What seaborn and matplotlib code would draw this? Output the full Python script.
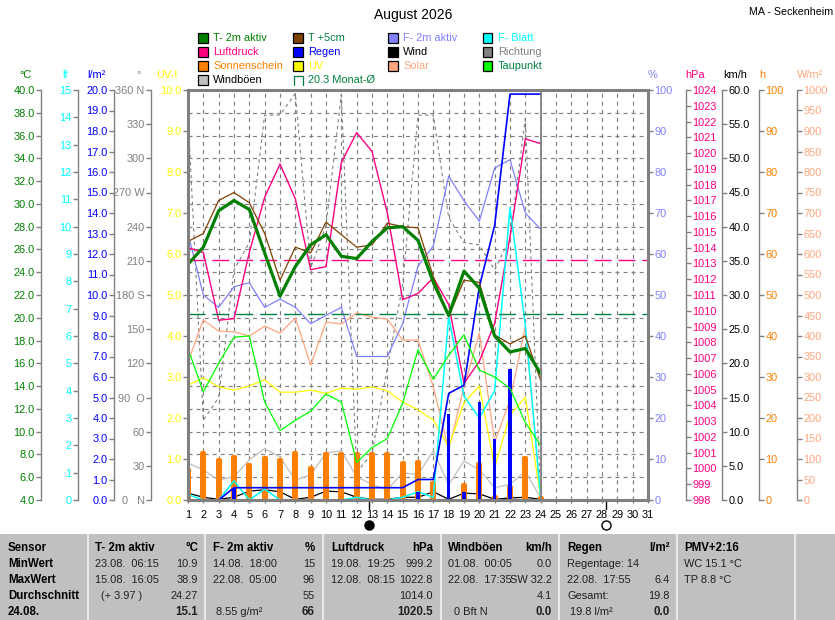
import matplotlib
matplotlib.use('Agg')
import matplotlib.pyplot as plt
import numpy as np
import seaborn as sns
from matplotlib.lines import Line2D
from matplotlib.patches import Rectangle

W, H = 835, 620

days = list(range(1, 25))
month_days = list(range(1, 32))

t_2m = [24.7, 26.2, 29.4, 30.3, 29.5, 25.7, 21.9, 24.5, 26.4, 27.3, 25.4, 25.2,
        26.7, 27.9, 28.0, 26.8, 23.1, 20.2, 24.1, 22.6, 18.4, 17.0, 17.3, 15.1]
t_5cm = [26.7, 27.4, 30.3, 31.0, 30.1, 27.4, 23.3, 26.2, 25.7, 28.4, 27.3, 26.2,
         26.4, 28.3, 28.0, 27.9, 23.6, 20.1, 23.3, 23.1, 18.5, 17.7, 18.4, 14.5]
taupunkt = [17.3, 13.5, 16.0, 18.3, 18.4, 12.6, 10.1, 11.0, 11.8, 13.3, 12.6, 7.3,
            8.6, 9.4, 12.5, 17.2, 14.6, 16.7, 18.5, 15.4, 14.8, 13.8, 10.8, 8.8]
luftdruck = [1014.0, 1013.7, 1009.4, 1009.5, 1013.7, 1017.2, 1019.3, 1017.1, 1012.6, 1012.8,
             1019.4, 1021.3, 1020.1, 1016.2, 1010.7, 1011.1, 1012.1, 1010.4, 1005.4, 1006.8,
             1009.2, 1014.7, 1020.9, 1020.6]
f_2m = [65, 50, 47, 52, 53, 47, 49, 47, 43, 45, 47, 35, 35, 35, 43, 57, 62, 79, 73, 68, 81, 83, 70, 66]
f_blatt = [0.2, 0, 0, 0.7, 0, 0.4, 0, 0, 0, 0, 0, 0.1, 0, 0, 0.1, 0.3, 0.1, 6.7, 3.8, 3.0, 4.0, 10.7, 6.4, 0.1]
regen_sum = [0, 0, 0, 0.6, 0.6, 0.6, 0.6, 0.6, 0.6, 0.6, 0.6, 0.6, 0.6, 0.6, 0.6, 1.0, 1.0, 5.2, 5.6, 10.4,
             13.4, 19.8, 19.8, 19.8]
regen_tag = [0, 0, 0, 0.6, 0, 0, 0, 0, 0, 0, 0, 0, 0, 0, 0, 0.4, 0, 4.2, 0.4, 4.8, 3.0, 6.4, 0, 0]
wind = [1.0, 0.4, 0.1, 0.4, 1.3, 1.5, 1.2, 0.1, 0.4, 1.3, 1.2, 0.4, 0.1, 0.1, 0.4, 0.4, 1.2, 0.1, 1.0, 0.9,
        0.1, 0.3, 0.4, 0.1]
boeen = [5.4, 4.4, 2.9, 3.4, 5.9, 7.5, 6.3, 2.9, 3.7, 6.9, 7.2, 3.4, 2.3, 1.5, 4.0, 3.7, 7.2, 2.2, 5.7, 4.4,
         1.8, 2.3, 4.2, 0.3]
richtung = [338, 70, 90, 202, 226, 338, 338, 357, 204, 241, 356, 24, 41, 116, 189, 338, 338, 248, 226, 224,
            202, 230, 335, 2]
solar = [337, 439, 412, 410, 400, 424, 407, 444, 329, 434, 429, 456, 446, 441, 390, 390, 276, 122, 276, 407,
         141, 244, 422, 5]
uv = [2.8, 2.98, 2.76, 2.68, 2.78, 2.93, 2.63, 2.63, 2.68, 2.6, 2.73, 2.7, 2.76, 2.66, 2.39, 2.2, 1.95, 1.3,
      2.37, 2.78, 0.8, 2.07, 2.51, 0.05]
sonne = [7.3, 11.4, 9.8, 10.5, 8.5, 10.2, 9.8, 11.4, 7.8, 11.2, 11.2, 11.2, 11.2, 11.2, 9.0, 9.3, 4.1, 0, 3.7, 8.8,
         0.7, 3.2, 10.2, 0.5]
t_monat = 20.3
p_mittel = 1013.2
moon_days = [12.8, 28.25]

temp_ticks = list(range(4, 41, 2))
lf_ticks = list(range(0, 16))
rain_ticks = list(range(0, 21))
deg_ticks = list(range(0, 361, 30))
deg_labels = ['0   N', '30', '60', '90  O', '120', '150', '180 S', '210', '240', '270 W', '300', '330', '360 N']
uv_ticks = list(range(0, 11))
pct_ticks = list(range(0, 101, 10))
hpa_ticks = list(range(998, 1025))
kmh_ticks = list(range(0, 61, 5))
h_ticks = list(range(0, 101, 10))
wm_ticks = list(range(0, 1001, 50))

GRAY = '#808080'
GREEN = '#008000'
BROWN = '#804000'
PINK = '#FF0080'
BLUE = '#0000FF'
LILAC = '#8080FF'
PEACH = '#FFA67F'
ORANGE = '#FF8000'
CYAN = '#00FFFF'
YELLOW = '#FFFF00'
LIME = '#00FF00'
SILVER = '#C0C0C0'
TEAL = '#008040'

sns.set_style('white')
plt.rcParams['font.family'] = ['Liberation Sans', 'DejaVu Sans']
plt.rcParams['lines.scale_dashes'] = False
FS = 7.9
PX = 72 / 100  # ein Pixel in Punkt


def fx(x):
    return x / W


def fy(y):
    return 1 - y / H


def draw_line(ax, y, color, lw=0.9, **kw):
    sns.lineplot(x=days, y=y, ax=ax, color=color, linewidth=lw, errorbar=None, **kw)


def new_scale(base, lo, hi):
    tw = base.twinx()
    tw.set_ylim(lo, hi)
    tw.set_yticks([])
    for s in tw.spines.values():
        s.set_visible(False)
    return tw


def show_axis(ax, side, offset, ticks, labels, color):
    ax.yaxis.set_ticks_position(side)
    ax.yaxis.set_label_position(side)
    sp = ax.spines[side]
    sp.set_visible(True)
    sp.set_position(('outward', offset * PX))
    sp.set_color(GRAY)
    sp.set_linewidth(1)
    ax.set_yticks(ticks)
    ax.set_yticklabels(labels)
    ax.tick_params(axis='y', which='major', left=side == 'left', right=side == 'right',
                   length=3.6, width=1, color=GRAY, labelcolor=color, labelsize=FS, pad=1)


fig = plt.figure(figsize=(W / 100, H / 100), dpi=100)
ax = fig.add_axes([fx(188), fy(500), 460 / W, 410 / H])
ax.set_ylim(4, 40)

ax_deg = new_scale(ax, 0, 360)
ax_wm = new_scale(ax, 0, 1000)
ax_uv = new_scale(ax, 0, 10)
ax_pct = new_scale(ax, 0, 100)
ax_hpa = new_scale(ax, 998, 1024)
ax_kmh = new_scale(ax, 0, 60)
ax_h = new_scale(ax, 0, 100)
ax_lf = new_scale(ax, 0, 15)
ax_rain = new_scale(ax, 0, 20)
ax_temp = new_scale(ax, 4, 40)
ax_top = new_scale(ax, 0, 1)

draw_line(ax_deg, richtung, GRAY, lw=0.8, linestyle=(0, (2.4, 2.4)))
draw_line(ax_wm, solar, PEACH)
draw_line(ax_uv, uv, YELLOW)
draw_line(ax_pct, f_2m, LILAC)
ax_hpa.axhline(p_mittel, color=PINK, lw=1, linestyle=(0, (12.2, 5)))
draw_line(ax_hpa, luftdruck, PINK, lw=1)
sns.barplot(x=days, y=sonne, ax=ax_h, native_scale=True, color=ORANGE, saturation=1, width=0.13,
            linewidth=2.9, edgecolor=ORANGE, joinstyle='round', errorbar=None)
draw_line(ax_kmh, boeen, SILVER)
draw_line(ax_kmh, wind, 'black')
draw_line(ax_lf, f_blatt, CYAN, lw=1.1)
sns.barplot(x=days, y=regen_tag, ax=ax_rain, native_scale=True, color=BLUE, saturation=1, width=0.2,
            linewidth=0, errorbar=None)
draw_line(ax_rain, regen_sum, BLUE, lw=1.2)
ax_temp.axhline(t_monat, color=TEAL, lw=1, linestyle=(0, (12.2, 5)))
draw_line(ax_temp, taupunkt, LIME)
draw_line(ax_temp, t_5cm, BROWN)
draw_line(ax_temp, t_2m, GREEN, lw=2.3)

show_axis(ax_temp, 'left', 147, temp_ticks, [f'{v:.1f}' for v in temp_ticks], GREEN)
show_axis(ax_lf, 'left', 110, lf_ticks, lf_ticks, CYAN)
show_axis(ax_rain, 'left', 74, rain_ticks, [f'{v:.1f}' for v in rain_ticks], BLUE)
show_axis(ax_deg, 'left', 37, deg_ticks, deg_labels, GRAY)
show_axis(ax_uv, 'left', 0, uv_ticks, [f'{v:.1f}' for v in uv_ticks], YELLOW)
show_axis(ax_pct, 'right', 0, pct_ticks, pct_ticks, LILAC)
show_axis(ax_hpa, 'right', 38, hpa_ticks, hpa_ticks, PINK)
show_axis(ax_kmh, 'right', 74, kmh_ticks, [f'{v:.1f}' for v in kmh_ticks], 'black')
show_axis(ax_h, 'right', 111, h_ticks, h_ticks, ORANGE)
show_axis(ax_wm, 'right', 149, wm_ticks, wm_ticks, PEACH)

for a in fig.axes:
    a.set_xlabel('')
    a.set_ylabel('')

# Gitter und Rahmen
ax.set_xlim(1, 31)
ax.set_xticks(month_days)
ax.set_xticklabels(month_days)
ax.set_yticks(temp_ticks)
ax.tick_params(axis='y', left=False, right=False, labelleft=False)
ax.tick_params(axis='x', bottom=True, length=2.5, width=1, color=GRAY, labelsize=FS, pad=5, labelcolor='black')
ax.grid(True, color=GRAY, lw=0.85, linestyle=(0, (2.9, 2.9)))
ax.set_axisbelow(True)
for s in ax.spines.values():
    s.set_visible(False)
for name in ['left', 'right', 'top', 'bottom']:
    ax_top.spines[name].set_visible(True)
    ax_top.spines[name].set_color(GRAY)
    ax_top.spines[name].set_linewidth(2.2)
ax_top.axvline(days[-1], color=GRAY, lw=1.3)

# Mondphasen
trans = ax_top.get_xaxis_transform()
for d in moon_days:
    ax_top.plot([d, d], [0, -0.021], color='black', lw=1, transform=trans, clip_on=False)
ax_top.plot(moon_days[0], -0.061, 'o', ms=6.5, mfc='black', mec='black', transform=trans, clip_on=False)
ax_top.plot(moon_days[1], -0.061, 'o', ms=6.5, mfc='white', mec='black', mew=1, transform=trans, clip_on=False)

# Kopf
fig.text(fx(413), fy(15), 'August 2026', ha='center', va='center', fontsize=10, color='black')
fig.text(fx(833), fy(12), 'MA - Seckenheim', ha='right', va='center', fontsize=7.7, color='black')

headers = ['°C', 'lf', 'l/m²', '°', 'UV-I', '%', 'hPa', 'km/h', 'h', 'W/m²']
header_x = [25, 65, 96, 139, 167, 652, 695, 735, 762, 810]
header_c = [GREEN, CYAN, BLUE, GRAY, YELLOW, LILAC, PINK, 'black', ORANGE, PEACH]
for t, x, c in zip(headers, header_x, header_c):
    fig.text(fx(x), fy(75), t, ha='center', va='center', fontsize=FS, color=c)

# Legende
legend_names = ['T- 2m aktiv', 'T +5cm', 'F- 2m aktiv', 'F- Blatt',
                'Luftdruck', 'Regen', 'Wind', 'Richtung',
                'Sonnenschein', 'UV', 'Solar', 'Taupunkt',
                'Windböen']
legend_fill = [GREEN, BROWN, LILAC, CYAN, PINK, BLUE, 'black', GRAY, ORANGE, YELLOW, PEACH, LIME, SILVER]
legend_text = [GREEN, TEAL, LILAC, CYAN, PINK, BLUE, 'black', GRAY, ORANGE, YELLOW, PEACH, TEAL, 'black']
col_x = [198, 293, 388, 483]
row_y = [38, 52, 66, 80]
for i, name in enumerate(legend_names):
    x0 = col_x[i % 4]
    y0 = row_y[i // 4]
    fig.add_artist(Rectangle((fx(x0), fy(y0 + 4.5)), 9.5 / W, 9.5 / H, transform=fig.transFigure,
                             facecolor=legend_fill[i], edgecolor='black', lw=0.9))
    fig.text(fx(x0 + 15), fy(y0), name, ha='left', va='center', fontsize=FS, color=legend_text[i])
fig.add_artist(Line2D([fx(293.5), fx(293.5), fx(302.5), fx(302.5)], [fy(85), fy(76), fy(76), fy(85)],
                      transform=fig.transFigure, color=TEAL, lw=0.9))
fig.text(fx(308), fy(80), f'{t_monat} Monat-Ø', ha='left', va='center', fontsize=FS, color=TEAL)

# Tabelle unten
fig.add_artist(Rectangle((0, 0), 1, fy(534), transform=fig.transFigure, facecolor=SILVER, edgecolor='none'))
for x in [88, 205, 323, 441, 559, 677, 795]:
    fig.add_artist(Line2D([fx(x), fx(x)], [fy(534), 0], transform=fig.transFigure, color='#EEEEEE', lw=1.3))

table_rows_y = [548, 564, 580, 596, 612]
sensor_names = ['Sensor', 'MinWert', 'MaxWert', 'Durchschnitt', '24.08.']
col_left_x = [95, 213, 331, 448, 567, 684]
col_right_x = [198, 315, 433, 552, 670, None]
col_heads = ['T- 2m aktiv', 'F- 2m aktiv', 'Luftdruck', 'Windböen', 'Regen', 'PMV+2:16']
col_units = ['°C', '%', 'hPa', 'km/h', 'l/m²', '']
col_left = [['23.08.  06:15', '15.08.  16:05', '  (+ 3.97 )', ''],
            ['14.08.  18:00', '22.08.  05:00', '', ' 8.55 g/m²'],
            ['19.08.  19:25', '12.08.  08:15', '', ''],
            ['01.08.  00:05', '22.08.  17:35', '', '  0 Bft N'],
            ['Regentage: 14', '22.08.  17:55', 'Gesamt:', ' 19.8 l/m²'],
            ['WC 15.1 °C', 'TP 8.8 °C', '', '']]
col_right = [['10.9', '38.9', '24.27', '15.1'],
             ['15', '96', '55', '66'],
             ['999.2', '1022.8', '1014.0', '1020.5'],
             ['0.0', 'SW 32.2', '4.1', '0.0'],
             ['', '6.4', '19.8', '0.0'],
             ['', '', '', '']]
TXT = '#202020'
FB = 8.3
for t, y in zip(sensor_names, table_rows_y):
    fig.text(fx(8), fy(y), t, ha='left', va='center', fontsize=FB, fontweight='bold', color='black')
for c in range(6):
    fig.text(fx(col_left_x[c]), fy(table_rows_y[0]), col_heads[c], ha='left', va='center',
             fontsize=FB, fontweight='bold', color='black')
    if col_right_x[c] is not None:
        fig.text(fx(col_right_x[c]), fy(table_rows_y[0]), col_units[c], ha='right', va='center',
                 fontsize=FB, fontweight='bold', color='black')
    for r in range(4):
        y = fy(table_rows_y[r + 1])
        fig.text(fx(col_left_x[c]), y, col_left[c][r], ha='left', va='center', fontsize=FS, color=TXT)
        if col_right_x[c] is not None:
            is_bold = r == 3
            fig.text(fx(col_right_x[c]), y, col_right[c][r], ha='right', va='center', color=TXT,
                     fontsize=FB if is_bold else FS, fontweight='bold' if is_bold else 'normal')

fig.savefig('out.png', dpi=100)
